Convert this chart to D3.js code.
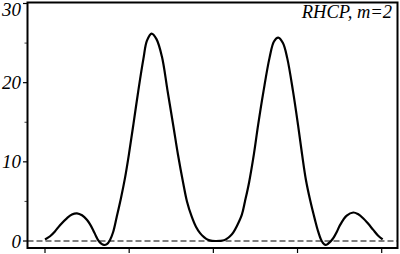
<!DOCTYPE html>
<html>
<head>
<meta charset="utf-8">
<script src="https://cdn.jsdelivr.net/npm/d3@7"></script>
<style>
  body { margin: 0; background: #fff; }
  svg { display: block; }
</style>
</head>
<body>
<div id="chart-Div"></div>
<script>

// angle (deg) and pattern values
let angles = [-90.0, -87.3, -84.7, -82.0, -78.2, -75.6, -72.9, -70.2, -67.5, -65.9,
    -64.3, -62.7, -61.7, -60.1, -58.5, -56.9, -55.3, -53.6, -51.7, -49.4,
    -47.2, -45.1, -42.7, -40.1, -37.4, -35.5, -33.0, -30.4, -27.5, -24.5,
    -21.3, -18.9, -16.1, -14.1, -11.6, -9.3, -7.1, -5.0, -2.9, -0.7,
    1.4, 3.6, 5.7, 7.3, 8.9, 10.7, 12.6, 15.2, 16.9, 19.1,
    21.7, 23.9, 26.8, 30.0, 32.4, 34.7, 37.2, 39.5, 42.6, 45.3,
    47.4, 49.5, 51.7, 54.3, 55.9, 57.5, 58.6, 60.0, 61.3, 62.9,
    64.1, 66.1, 67.7, 71.3, 74.8, 77.3, 80.2, 82.7, 85.5, 88.0, 90.5];
let values = [0.2, 0.6, 1.2, 2.0, 2.9, 3.35, 3.5, 3.25, 2.65, 2.1,
    1.4, 0.6, 0.15, -0.3, -0.5, -0.4, 0.1, 1.1, 3.0, 5.4,
    8.0, 11.0, 14.8, 19.0, 23.0, 25.3, 26.2, 25.5, 23.3, 19.0,
    14.4, 10.9, 7.3, 5.0, 3.1, 1.8, 1.0, 0.5, 0.15, 0.02,
    0.0, 0.02, 0.1, 0.3, 0.6, 1.1, 1.9, 3.3, 5.0, 7.4,
    11.0, 14.6, 18.9, 23.1, 25.2, 25.7, 25.0, 23.1, 18.9, 14.6,
    11.0, 7.7, 5.2, 2.7, 1.3, 0.2, -0.25, -0.5, -0.35, 0.0,
    0.35, 1.2, 2.0, 3.2, 3.6, 3.4, 2.85, 2.2, 1.4, 0.7, 0.2];

let xTicks = [-90, -45, 0, 45, 90];
let yMajor = [0, 10, 20, 30];
let yMinor = [5, 15, 25];
let label = 'RHCP, m=2';

let width = 400, height = 254;
let frame = { left: 27.5, right: 397.5, top: 2.5, bottom: 248 };

let svg = d3.select('#chart-Div')
    .append('svg')
    .attr('width', width)
    .attr('height', height);

let xScale = d3.scaleLinear()
    .domain([-90, 90])
    .range([45, 381.7]);
let yScale = d3.scaleLinear()
    .domain([0, 30])
    .range([241, 3.5]);

let data = angles.map((a, i) => ({ a: a, v: values[i] }));

// dashed zero line
svg.append('line')
    .attr('x1', frame.left)
    .attr('x2', frame.right)
    .attr('y1', yScale(0))
    .attr('y2', yScale(0))
    .attr('stroke', '#555')
    .attr('stroke-width', 1.4)
    .attr('stroke-dasharray', '6,3');

// pattern curve
let lineGen = d3.line()
    .x(d => xScale(d.a))
    .y(d => yScale(d.v))
    .curve(d3.curveCatmullRom.alpha(0.5));

svg.append('path')
    .attr('d', lineGen(data))
    .attr('fill', 'none')
    .attr('stroke', 'black')
    .attr('stroke-width', 2.2)
    .attr('stroke-linejoin', 'round');

// y axis ticks (outward)
svg.selectAll('.ymaj')
    .data(yMajor)
    .enter().append('line')
    .attr('x1', frame.left - 4.5)
    .attr('x2', frame.left)
    .attr('y1', d => yScale(d))
    .attr('y2', d => yScale(d))
    .attr('stroke', 'black')
    .attr('stroke-width', 1.2);

svg.selectAll('.ymin')
    .data(yMinor)
    .enter().append('line')
    .attr('x1', frame.left - 3)
    .attr('x2', frame.left)
    .attr('y1', d => yScale(d))
    .attr('y2', d => yScale(d))
    .attr('stroke', '#444')
    .attr('stroke-width', 1);

svg.selectAll('.ylab')
    .data(yMajor)
    .enter().append('text')
    .attr('x', 21)
    .attr('y', d => Math.max(yScale(d), 9))
    .attr('dy', '0.35em')
    .attr('text-anchor', 'end')
    .attr('font-family', '"Liberation Serif", "DejaVu Serif", serif')
    .attr('font-style', 'italic')
    .attr('font-size', 19)
    .text(d => d);

// x axis ticks, no labels
svg.selectAll('.xt')
    .data(xTicks)
    .enter().append('line')
    .attr('x1', d => xScale(d))
    .attr('x2', d => xScale(d))
    .attr('y1', frame.bottom)
    .attr('y2', frame.bottom + 5)
    .attr('stroke', 'black')
    .attr('stroke-width', 1.2);

// frame
svg.append('rect')
    .attr('x', frame.left)
    .attr('y', frame.top)
    .attr('width', frame.right - frame.left)
    .attr('height', frame.bottom - frame.top)
    .attr('fill', 'none')
    .attr('stroke', 'black')
    .attr('stroke-width', 2);

svg.append('text')
    .attr('x', 392)
    .attr('y', 18)
    .attr('text-anchor', 'end')
    .attr('font-family', '"Liberation Serif", "DejaVu Serif", serif')
    .attr('font-style', 'italic')
    .attr('font-size', 18.5)
    .text(label);

</script>
</body>
</html>
